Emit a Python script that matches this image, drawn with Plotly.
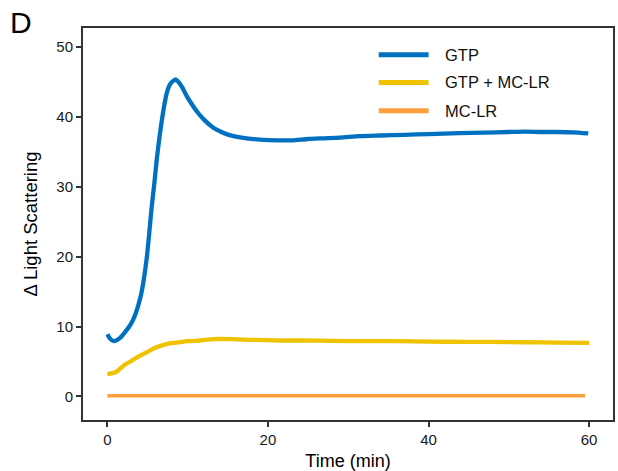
import plotly.graph_objects as go

# Time courses of light scattering (minutes, arbitrary units)
gtp_time = [0, 0.3, 0.8, 1.5, 2.2, 2.9, 3.5, 4.1, 4.5, 4.9, 5.2, 5.5, 5.85, 6.15, 6.5,
            6.8, 7.1, 7.4, 7.8, 8.2, 8.55, 8.9, 9.3, 9.9, 10.5, 11.1, 12.0, 13.2, 14.2,
            15.2, 16.2, 17.3, 19.0, 21.4, 23.0, 25, 27, 29, 31.4, 34, 37, 40, 43.8,
            47, 50, 52, 54, 56, 58, 59.9]
gtp_signal = [8.9, 8.3, 7.9, 8.3, 9.2, 10.3, 11.8, 14.1, 16.5, 19.8, 23.2, 26.9, 30.5,
              33.9, 37.2, 39.6, 41.7, 43.4, 44.6, 45.1, 45.3, 44.9, 44.2, 42.9, 41.8,
              40.8, 39.6, 38.4, 37.8, 37.35, 37.1, 36.9, 36.7, 36.6, 36.6, 36.8, 36.9,
              37.0, 37.2, 37.3, 37.4, 37.5, 37.65, 37.7, 37.8, 37.85, 37.8, 37.8, 37.75,
              37.6]

gtp_mclr_time = [0, 0.5, 1.2, 2.0, 3.0, 4.0, 4.9, 5.8, 6.8, 7.7, 8.6, 10, 11.5, 13.2,
                 15.6, 18, 21.4, 25, 28, 32, 36, 40, 44.6, 48, 52, 56, 60]
gtp_mclr_signal = [3.2, 3.3, 3.6, 4.4, 5.1, 5.8, 6.3, 6.9, 7.3, 7.6, 7.7, 7.9, 8.0,
                   8.2, 8.2, 8.1, 8.0, 8.0, 7.95, 7.9, 7.9, 7.85, 7.8, 7.8, 7.75, 7.7,
                   7.66]

mclr_time = [0, 10, 20, 30, 40, 50, 59.5]
mclr_signal = [0.1, 0.1, 0.1, 0.1, 0.1, 0.1, 0.1]

series_names = ["GTP", "GTP + MC-LR", "MC-LR"]
series_colors = ["#0070C0", "#F0C300", "#FF9E3D"]

x_ticks = [0, 20, 40, 60]
y_ticks = [0, 10, 20, 30, 40, 50]

FONT = "Liberation Sans, Arial, sans-serif"

fig = go.Figure()
for t, v, name, col, w in [
    (gtp_time, gtp_signal, series_names[0], series_colors[0], 4.3),
    (gtp_mclr_time, gtp_mclr_signal, series_names[1], series_colors[1], 4.3),
    (mclr_time, mclr_signal, series_names[2], series_colors[2], 3.5),
]:
    fig.add_trace(go.Scatter(x=t, y=v, mode="lines", name=name,
                             line=dict(color=col, width=w, shape="spline", smoothing=0.6),
                             showlegend=False))

# Hand-placed legend: line swatches plus labels (paper coordinates)
legend_y = [0.932, 0.861, 0.789]
for name, col, ly in zip(series_names, series_colors, legend_y):
    fig.add_shape(type="line", xref="paper", yref="paper",
                  x0=0.558, x1=0.652, y0=ly, y1=ly,
                  line=dict(color=col, width=5))
    fig.add_annotation(xref="paper", yref="paper", x=0.680, y=ly, text=name,
                       showarrow=False, xanchor="left", yanchor="middle",
                       font=dict(family=FONT, size=16.5, color="#111111"))

# Panel letter
fig.add_annotation(xref="paper", yref="paper", x=-0.141, y=1.013, text="D",
                   showarrow=False, xanchor="left", yanchor="middle",
                   font=dict(family=FONT, size=30, color="#000000"))

axis_common = dict(showgrid=False, zeroline=False, showline=True, mirror=True,
                   linecolor="#333333", linewidth=2, ticks="outside", ticklen=5,
                   tickwidth=2, tickcolor="#333333",
                   tickfont=dict(family=FONT, size=15, color="#1a1a1a"))

fig.update_xaxes(range=[-3.04, 62.98], tickvals=x_ticks,
                 title=dict(text="Time (min)", font=dict(family=FONT, size=18, color="#000000"),
                            standoff=7),
                 **axis_common)
fig.update_yaxes(range=[-3.36, 52.66], tickvals=y_ticks,
                 title=dict(text="Δ Light Scattering", font=dict(family=FONT, size=18.5, color="#000000"),
                            standoff=14),
                 **axis_common)

fig.update_layout(width=618, height=471, plot_bgcolor="white", paper_bgcolor="white",
                  margin=dict(l=83, r=3, t=28, b=48), showlegend=False)

fig.write_html("out.html")
